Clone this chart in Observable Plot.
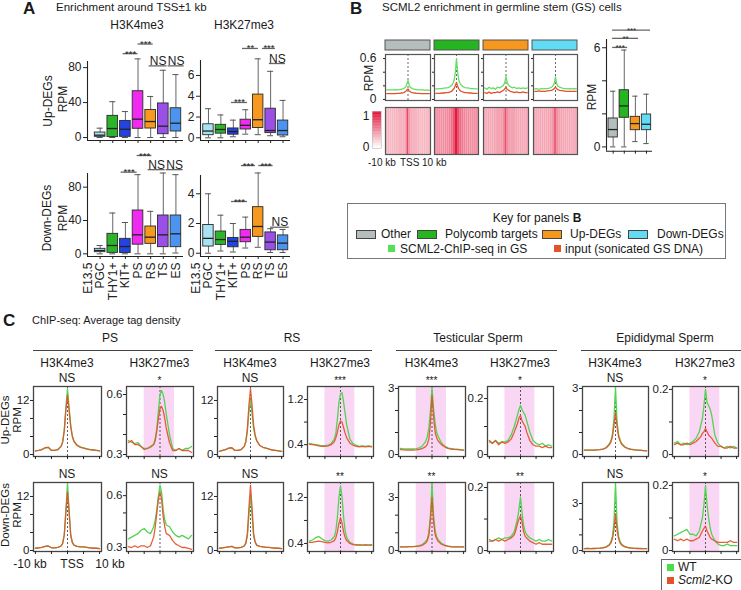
<!DOCTYPE html>
<html><head><meta charset="utf-8">
<script src="https://cdn.jsdelivr.net/npm/d3@7"></script>
<script src="https://cdn.jsdelivr.net/npm/@observablehq/plot@0.6"></script>
<style>
body{margin:0;background:#fff}
#fig{position:relative;width:741px;height:590px;overflow:hidden;font-family:"Liberation Sans",Arial,Helvetica,sans-serif;color:#1a1a1a;background:#fff}
.t{position:absolute;white-space:nowrap;line-height:1}
.sw{position:absolute;box-sizing:border-box}
</style></head>
<body><div id="fig"></div>
<script>
// ================= DATA =================
// Panel A: boxplot summaries [min, q1, median, q3, max] (RPM)
const stageCats = ["E13.5 PGC","THY1+","KIT+","PS","RS","TS","ES"];
const stageColors = ["#a7e3f2","#2cb52a","#2443e3","#ee2bee","#f7991f","#9a50e6","#4d94f0"];
const upK4Stats   = [[0,0.8,2.7,5.7,10.7],[0,0.5,10.3,24.8,41],[0,0.8,9.5,19,29.7],[0,10,21,53,90],[0,10.3,18.3,31.6,47],[0,3.8,13,39,77],[0,6.9,16.4,33.5,72]];
const upK27Stats  = [[0,0.25,0.65,1.3,2.8],[0,0.4,0.8,1.25,2.2],[0.1,0.3,0.6,0.9,1.7],[0.35,0.8,1.2,1.74,2.7],[0.3,0.94,1.74,4.16,7.6],[0.2,0.45,0.7,2.8,6.4],[0.1,0.22,0.7,1.66,3.6]];
const downK4Stats = [[0,2,4,6,10],[0,1.2,10,24,49],[0,1,8.8,18,37.6],[0,11,22.8,52,95],[0,12,20,32.8,51],[0,8,22.8,46,97],[1,8,24,46,95]];
const downK27Stats= [[0,0.45,1.0,1.9,4.0],[0.15,0.56,0.92,1.46,2.56],[0.08,0.4,0.8,1.03,2.0],[0.35,0.74,1.08,1.57,2.43],[0.4,1.1,1.8,3.1,5.4],[0.05,0.2,0.75,1.4,1.65],[0.05,0.2,0.68,1.2,1.6]];
// significance brackets: from category position x1 to x2, at level y (RPM)
const upK4Sig   = [{x1:1.82,x2:3.0,y:96,label:"***"},{x1:3.0,x2:4.2,y:107,label:"***"},{x1:3.88,x2:5.3,y:82,label:"NS"},{x1:5.38,x2:6.65,y:82,label:"NS"}];
const upK27Sig  = [{x1:1.85,x2:3.14,y:3.4,label:"***"},{x1:2.74,x2:4.02,y:8.6,label:"**"},{x1:4.34,x2:5.39,y:8.6,label:"***"},{x1:4.9,x2:6.2,y:7.15,label:"NS"}];
const downK4Sig = [{x1:1.66,x2:2.93,y:98,label:"***"},{x1:2.93,x2:4.1,y:118,label:"***"},{x1:3.8,x2:5.15,y:101,label:"NS"},{x1:5.23,x2:6.57,y:101,label:"NS"}];
const downK27Sig= [{x1:1.85,x2:3.14,y:3.48,label:"***"},{x1:2.65,x2:3.78,y:5.9,label:"***"},{x1:4.05,x2:5.2,y:5.9,label:"***"},{x1:5.0,x2:6.5,y:1.75,label:"NS"}];

// Panel B
const gsCats = ["Other","Polycomb targets","Up-DEGs","Down-DEGs"];
const gsColors = ["#b5bdbd","#25b520","#f7981e","#62dcf4"];
const gsStats = [[0,0.57,1.05,1.72,3.37],[0,1.76,2.48,3.43,5.86],[0.32,1.01,1.41,1.82,3.07],[0.2,1.01,1.37,1.96,3.19]];
const gsSig = [{x1:-0.05,x2:1.3,y:6.02,label:"***"},{x1:-0.05,x2:2.28,y:6.57,label:"**"},{x1:-0.05,x2:3.36,y:7.07,label:"***"}];
// profile x positions (kb from TSS)
const xs = [-10,-9,-8,-7,-6,-5,-4,-3,-2,-1.5,-1,-0.5,0,0.5,1,1.5,2,3,4,5,6,7,8,9,10];
const scml2Other = [0.14,0.14,0.14,0.14,0.145,0.14,0.145,0.15,0.16,0.17,0.19,0.23,0.28,0.22,0.18,0.17,0.16,0.15,0.145,0.14,0.14,0.14,0.135,0.14,0.135];
const inputOther = [0.085,0.085,0.085,0.085,0.085,0.09,0.09,0.095,0.1,0.11,0.12,0.14,0.155,0.13,0.115,0.105,0.1,0.095,0.09,0.09,0.085,0.085,0.085,0.085,0.085];
const scml2Poly = [0.155,0.155,0.16,0.16,0.165,0.17,0.175,0.19,0.22,0.25,0.3,0.42,0.6,0.42,0.3,0.25,0.22,0.19,0.175,0.17,0.165,0.16,0.16,0.155,0.155];
const inputPoly = [0.09,0.09,0.09,0.095,0.095,0.1,0.1,0.11,0.13,0.15,0.17,0.21,0.25,0.2,0.16,0.14,0.125,0.11,0.1,0.1,0.095,0.095,0.09,0.09,0.09];
const scml2Up = [0.17,0.15,0.18,0.16,0.17,0.15,0.18,0.17,0.19,0.2,0.22,0.26,0.34,0.26,0.22,0.2,0.19,0.17,0.18,0.16,0.17,0.16,0.17,0.16,0.17];
const inputUp = [0.1,0.09,0.11,0.09,0.1,0.1,0.11,0.1,0.12,0.13,0.14,0.16,0.18,0.15,0.14,0.13,0.12,0.11,0.1,0.11,0.1,0.1,0.11,0.1,0.1];
const scml2Down = [0.155,0.16,0.15,0.16,0.155,0.16,0.16,0.165,0.18,0.19,0.21,0.25,0.33,0.24,0.2,0.19,0.18,0.17,0.16,0.16,0.155,0.16,0.155,0.16,0.155];
const inputDown = [0.12,0.12,0.125,0.12,0.12,0.12,0.125,0.13,0.135,0.14,0.15,0.165,0.18,0.16,0.145,0.14,0.135,0.13,0.125,0.12,0.12,0.12,0.12,0.12,0.12];
// heatmap column intensities (0..1), x = -10..10 kb
const hmX = [-10,-9,-8,-7,-6,-5,-4,-3,-2,-1,0,1,2,3,4,5,6,7,8,9,10];
const hmOther = [0.28,0.28,0.28,0.28,0.29,0.29,0.29,0.3,0.31,0.36,0.72,0.4,0.32,0.3,0.29,0.29,0.28,0.28,0.28,0.28,0.28];
const hmPoly  = [0.42,0.42,0.43,0.43,0.44,0.45,0.46,0.49,0.55,0.66,0.9,0.7,0.58,0.52,0.48,0.46,0.45,0.44,0.43,0.43,0.42];
const hmUp    = [0.33,0.33,0.34,0.34,0.34,0.35,0.35,0.36,0.38,0.44,0.7,0.47,0.39,0.37,0.36,0.35,0.35,0.34,0.34,0.33,0.33];
const hmDown  = [0.33,0.33,0.33,0.34,0.34,0.34,0.35,0.35,0.37,0.41,0.62,0.44,0.38,0.36,0.35,0.35,0.34,0.34,0.33,0.33,0.33];

// Panel C: average tag density (RPM), WT and Scml2-KO
const up_PS_K4_WT  = [0.8,0.9,1.1,1.5,1.6,0.9,0.9,1.1,1.8,2.8,5.5,10.5,14.6,10.5,6.5,4.2,3.0,2.1,1.7,1.5,1.3,1.1,1.0,0.9,0.8];
const up_PS_K4_KO  = [0.8,0.9,1.1,1.5,1.6,0.9,0.9,1.1,1.8,2.8,5.3,10.0,13.2,9.8,6.2,4.0,2.9,2.0,1.6,1.4,1.2,1.1,1.0,0.9,0.8];
const up_PS_K27_WT = [0.37,0.36,0.355,0.36,0.34,0.33,0.33,0.335,0.35,0.38,0.43,0.52,0.6,0.62,0.6,0.56,0.5,0.4,0.33,0.32,0.33,0.32,0.33,0.33,0.34];
const up_PS_K27_KO = [0.36,0.37,0.35,0.35,0.34,0.325,0.33,0.34,0.35,0.37,0.42,0.48,0.53,0.54,0.52,0.48,0.43,0.36,0.32,0.32,0.33,0.32,0.32,0.32,0.31];
const up_RS_K4_WT  = [0.7,0.9,1.1,1.4,1.5,0.9,0.9,1.1,1.8,2.8,5.2,9.5,12.2,9.0,5.8,4.0,3.0,2.0,1.6,1.4,1.2,1.0,0.9,0.8,0.7];
const up_RS_K4_KO  = [0.7,0.9,1.1,1.4,1.5,0.9,0.9,1.1,1.8,2.9,5.8,11.0,14.6,11.0,6.5,4.3,3.1,2.0,1.6,1.4,1.2,1.0,0.9,0.8,0.7];
const up_RS_K27_WT = [0.42,0.41,0.4,0.39,0.38,0.38,0.39,0.42,0.5,0.6,0.85,1.15,1.3,1.32,1.15,0.95,0.75,0.5,0.42,0.39,0.37,0.38,0.37,0.38,0.37];
const up_RS_K27_KO = [0.41,0.4,0.39,0.38,0.37,0.37,0.38,0.4,0.45,0.52,0.62,0.75,0.82,0.8,0.7,0.6,0.52,0.43,0.39,0.37,0.36,0.37,0.36,0.37,0.36];
const up_TS_K4_WT  = [0.28,0.26,0.25,0.25,0.25,0.27,0.3,0.4,0.6,0.8,1.2,2.0,3.0,2.1,1.4,1.0,0.8,0.52,0.38,0.3,0.27,0.25,0.24,0.22,0.2];
const up_TS_K4_KO  = [0.22,0.21,0.2,0.2,0.2,0.21,0.23,0.28,0.36,0.46,0.7,1.4,2.7,1.7,1.0,0.75,0.6,0.45,0.35,0.28,0.25,0.23,0.22,0.21,0.2];
const up_TS_K27_WT = [0.045,0.04,0.05,0.04,0.045,0.045,0.05,0.07,0.1,0.12,0.14,0.16,0.175,0.16,0.15,0.14,0.12,0.08,0.05,0.04,0.035,0.04,0.03,0.035,0.03];
const up_TS_K27_KO = [0.05,0.04,0.05,0.035,0.045,0.04,0.045,0.055,0.08,0.095,0.11,0.13,0.14,0.12,0.11,0.1,0.08,0.05,0.035,0.03,0.03,0.025,0.03,0.025,0.025];
const up_ES_K4_WT  = [0.2,0.2,0.2,0.2,0.21,0.22,0.25,0.32,0.48,0.62,0.9,1.6,3.05,1.5,0.9,0.65,0.5,0.35,0.28,0.24,0.22,0.2,0.2,0.18,0.17];
const up_ES_K4_KO  = [0.2,0.2,0.2,0.2,0.21,0.22,0.25,0.3,0.44,0.56,0.8,1.3,1.9,1.25,0.8,0.6,0.46,0.33,0.27,0.23,0.21,0.2,0.19,0.18,0.17];
const up_ES_K27_WT = [0.035,0.04,0.03,0.035,0.03,0.035,0.04,0.05,0.07,0.09,0.11,0.15,0.2,0.16,0.15,0.14,0.12,0.06,0.035,0.025,0.02,0.025,0.02,0.025,0.02];
const up_ES_K27_KO = [0.03,0.035,0.03,0.03,0.035,0.03,0.035,0.04,0.05,0.055,0.065,0.07,0.08,0.07,0.06,0.055,0.05,0.035,0.025,0.025,0.02,0.02,0.025,0.02,0.02];
const dn_PS_K4_WT  = [0.5,0.6,0.7,0.9,1.0,0.6,0.6,0.7,1.0,1.6,3.5,9.0,15.0,9.0,3.5,1.8,1.2,0.9,0.8,0.8,0.7,0.6,0.5,0.5,0.4];
const dn_PS_K4_KO  = [0.5,0.6,0.7,0.9,1.0,0.6,0.6,0.7,1.0,1.6,3.5,8.5,13.0,8.5,3.4,1.8,1.2,0.9,0.8,0.8,0.7,0.6,0.5,0.5,0.4];
const dn_PS_K27_WT = [0.35,0.36,0.37,0.38,0.4,0.41,0.39,0.38,0.42,0.46,0.52,0.6,0.66,0.62,0.52,0.46,0.43,0.42,0.39,0.37,0.36,0.37,0.36,0.35,0.37];
const dn_PS_K27_KO = [0.305,0.3,0.31,0.3,0.31,0.31,0.3,0.31,0.36,0.42,0.5,0.58,0.62,0.58,0.48,0.42,0.38,0.37,0.34,0.32,0.31,0.3,0.3,0.295,0.29];
const dn_RS_K4_WT  = [0.5,0.6,0.7,0.8,0.9,0.6,0.6,0.7,1.0,1.6,3.2,8.0,12.2,8.0,3.2,1.8,1.2,0.9,0.8,0.7,0.7,0.6,0.5,0.5,0.4];
const dn_RS_K4_KO  = [0.5,0.6,0.7,0.8,0.9,0.6,0.6,0.7,1.0,1.7,3.8,9.5,14.5,9.5,3.8,1.9,1.2,0.9,0.8,0.7,0.7,0.6,0.5,0.5,0.4];
const dn_RS_K27_WT = [0.44,0.46,0.5,0.52,0.48,0.45,0.44,0.46,0.52,0.62,0.85,1.2,1.4,1.2,0.85,0.62,0.5,0.42,0.39,0.38,0.38,0.37,0.38,0.37,0.38];
const dn_RS_K27_KO = [0.42,0.42,0.43,0.44,0.43,0.42,0.41,0.42,0.45,0.5,0.6,0.75,0.85,0.75,0.6,0.5,0.45,0.4,0.38,0.37,0.37,0.37,0.37,0.37,0.37];
const dn_TS_K4_WT  = [0.2,0.2,0.2,0.22,0.22,0.25,0.28,0.35,0.5,0.65,1.0,2.0,3.8,2.0,1.1,0.75,0.6,0.4,0.3,0.25,0.22,0.2,0.2,0.2,0.2];
const dn_TS_K4_KO  = [0.2,0.2,0.2,0.22,0.22,0.23,0.25,0.3,0.42,0.55,0.85,1.7,3.0,1.6,0.9,0.65,0.5,0.35,0.28,0.24,0.21,0.2,0.2,0.2,0.2];
const dn_TS_K27_WT = [0.035,0.03,0.035,0.04,0.035,0.04,0.04,0.045,0.06,0.08,0.1,0.13,0.17,0.12,0.08,0.06,0.05,0.04,0.035,0.03,0.035,0.03,0.03,0.035,0.03];
const dn_TS_K27_KO = [0.03,0.03,0.035,0.03,0.035,0.03,0.035,0.04,0.05,0.065,0.085,0.1,0.11,0.09,0.06,0.045,0.04,0.03,0.025,0.02,0.025,0.02,0.02,0.02,0.02];
const dn_ES_K4_WT  = [0.12,0.13,0.12,0.13,0.14,0.15,0.18,0.24,0.38,0.55,0.9,1.8,4.3,1.8,0.9,0.55,0.4,0.25,0.2,0.17,0.15,0.14,0.13,0.12,0.12];
const dn_ES_K4_KO  = [0.12,0.13,0.12,0.13,0.14,0.15,0.17,0.22,0.34,0.48,0.75,1.3,2.35,1.3,0.75,0.48,0.35,0.23,0.18,0.16,0.14,0.13,0.12,0.12,0.12];
const dn_ES_K27_WT = [0.045,0.05,0.055,0.06,0.065,0.05,0.05,0.045,0.06,0.08,0.1,0.14,0.2,0.14,0.1,0.07,0.05,0.03,0.02,0.015,0.015,0.02,0.015,0.015,0.015];
const dn_ES_K27_KO = [0.035,0.03,0.035,0.03,0.035,0.03,0.03,0.035,0.04,0.05,0.06,0.068,0.075,0.06,0.05,0.04,0.035,0.03,0.025,0.025,0.025,0.025,0.03,0.025,0.025];
const cSigUp   = ["NS","*","NS","***","***","*","NS","*"];
const cSigDown = ["NS","NS","NS","**","**","**","NS","*"];
const cStages = ["PS","RS","Testicular Sperm","Epididymal Sperm"];
const cMarks = ["H3K4me3","H3K27me3"];
const shadeRange = [-5, 4.6];

// ================= HELPERS =================
const fig = document.getElementById("fig");
const FONT = "Liberation Sans, Arial, Helvetica, sans-serif";
const WT = "#52d452", KO = "#e4512b";

function txt(x, y, s, o = {}) {
  const d = document.createElement("div");
  d.className = "t";
  d.innerHTML = s;
  d.style.left = x + "px"; d.style.top = y + "px";
  d.style.fontSize = (o.size || 12) + "px";
  if (o.bold) d.style.fontWeight = "bold";
  const ax = o.anchor === "middle" ? "-50%" : o.anchor === "end" ? "-100%" : "0";
  d.style.transform = `translate(${ax},-50%)` + (o.rotate ? ` rotate(${o.rotate}deg)` : "");
  fig.appendChild(d);
}
function box(x, y, w, h, fill, stroke, sw = 1) {
  const d = document.createElement("div");
  d.className = "sw";
  d.style.cssText += `left:${x}px;top:${y}px;width:${w}px;height:${h}px;background:${fill};` + (stroke ? `border:${sw}px solid ${stroke};` : "");
  fig.appendChild(d);
}
function hline(x1, x2, y, c = "#555") { box(x1, y, x2 - x1, 1.2, c); }

function mk(fx, fy, xOpt, yOpt, marks, m = [0, 0, 0, 0], fontSize = 11, extra = {}) {
  const [mt, mr, mb, ml] = m;
  const width = fx[1] - fx[0] + ml + mr, height = fy[1] - fy[0] + mt + mb;
  const svg = Plot.plot({
    width, height, marginTop: mt, marginRight: mr, marginBottom: mb, marginLeft: ml,
    x: {label: null, ...xOpt}, y: {label: null, ...yOpt},
    style: {fontFamily: FONT, fontSize: fontSize + "px", background: "none", overflow: "visible", color: "#222"},
    marks: marks.flat().filter(Boolean), ...extra
  });
  svg.style.position = "absolute";
  svg.style.left = (fx[0] - ml) + "px";
  svg.style.top = (fy[0] - mt) + "px";
  fig.appendChild(svg);
}

function sigMarks(sig, starSize = 9.5) {
  const L = sig.map(s => ({...s, xm: (s.x1 + s.x2) / 2}));
  return [
    Plot.ruleY(L, {y: "y", x1: "x1", x2: "x2", stroke: "#666", strokeWidth: 1.3}),
    Plot.text(L.filter(s => s.label === "NS"), {x: "xm", y: "y", text: "label", lineAnchor: "bottom", dy: -1, fontSize: 12}),
    Plot.text(L.filter(s => s.label !== "NS"), {x: "xm", y: "y", text: "label", lineAnchor: "bottom", dy: 3, fontSize: starSize})
  ];
}

function boxMarks(stats, colors, xd, yd, yticks, ylabels, cats) {
  const d = stats.map((s, i) => ({i, min: s[0], q1: s[1], med: s[2], q3: s[3], max: s[4], c: colors[i],
    first: cats ? cats[i].split(" ").slice(0, -1).join(" ") : "", last: cats ? cats[i].split(" ").slice(-1)[0] : ""}));
  const hw = 0.42, cw = 0.24;
  return [
    Plot.ruleX([xd[0]], {stroke: "#222", strokeWidth: 1.1}),
    Plot.ruleY([yd[0]], {stroke: "#222", strokeWidth: 1.1}),
    Plot.ruleX(d, {x: "i", y1: "min", y2: "max", stroke: "#666"}),
    Plot.ruleY(d, {y: "min", x1: e => e.i - cw, x2: e => e.i + cw, stroke: "#555"}),
    Plot.ruleY(d, {y: "max", x1: e => e.i - cw, x2: e => e.i + cw, stroke: "#555"}),
    Plot.rect(d, {x1: e => e.i - hw, x2: e => e.i + hw, y1: "q1", y2: "q3", fill: "c", stroke: "#2a2a2a", strokeWidth: 0.9}),
    Plot.ruleY(d, {y: "med", x1: e => e.i - hw, x2: e => e.i + hw, stroke: "#222", strokeWidth: 1.3}),
    Plot.axisY({ticks: yticks, tickSize: 4, tickPadding: 2, label: null, tickFormat: v => ylabels.includes(v) ? String(v) : ""}),
    Plot.axisX({ticks: d.map(e => e.i), tickSize: 3, label: null, tickFormat: () => ""}),
    cats ? Plot.text(d, {x: "i", y: yd[0], text: "last", rotate: -90, textAnchor: "end", lineAnchor: "middle", dy: 6, fontSize: 12}) : null,
    cats ? Plot.text(d.filter(e => e.first), {x: "i", y: yd[0], text: "first", rotate: -90, textAnchor: "end", lineAnchor: "middle", dy: 6, dx: -12, fontSize: 12}) : null
  ];
}
const series = ys => xs.map((x, i) => ({x, y: ys[i]}));

// ================= PANEL A =================
txt(23, 8, "A", {size: 17, bold: true});
txt(56, 8, "Enrichment around TSS±1 kb", {size: 11.5});
txt(137, 25, "H3K4me3", {anchor: "middle"});
txt(244, 25, "H3K27me3", {anchor: "middle"});
txt(48, 101, "Up-DEGs", {anchor: "middle", rotate: -90});
txt(63, 99, "RPM", {anchor: "middle", rotate: -90});
txt(47, 218, "Down-DEGs", {anchor: "middle", rotate: -90});
txt(63, 218, "RPM", {anchor: "middle", rotate: -90});

{
  const xd = [-1, 6.6], yd = [-3.4, 87];
  mk([87, 183], [61, 140], {domain: xd, axis: null}, {domain: yd, axis: null},
    [boxMarks(upK4Stats, stageColors, xd, yd, [0, 40, 80], [0, 40, 80]), sigMarks(upK4Sig)], [40, 5, 10, 30], 12);
}
{
  const xd = [-0.64, 6.6], yd = [-0.26, 7.44];
  mk([200, 290], [60, 140], {domain: xd, axis: null}, {domain: yd, axis: null},
    [boxMarks(upK27Stats, stageColors, xd, yd, [0, 2, 4, 6], [0, 2, 4, 6]), sigMarks(upK27Sig)], [40, 5, 10, 20], 12);
}
{
  const xd = [-1, 6.6], yd = [-3.2, 96.4];
  mk([87, 183], [173, 256], {domain: xd, axis: null}, {domain: yd, axis: null},
    [boxMarks(downK4Stats, stageColors, xd, yd, [0, 40, 80], [0, 40, 80], stageCats), sigMarks(downK4Sig)], [30, 5, 40, 30], 12);
}
{
  const xd = [-0.64, 6.6], yd = [-0.22, 5.23];
  mk([200, 290], [175, 256], {domain: xd, axis: null}, {domain: yd, axis: null},
    [boxMarks(downK27Stats, stageColors, xd, yd, [0, 2, 4], [0, 2, 4], stageCats), sigMarks(downK27Sig)], [30, 5, 40, 20], 12);
}

// ================= PANEL B =================
txt(350, 8, "B", {size: 17, bold: true});
txt(382, 8, "SCML2 enrichment in germline stem (GS) cells", {size: 11.5});
mk([385, 577], [40, 50], {type: "band", domain: gsCats, paddingInner: 0.09, paddingOuter: 0, axis: null}, {domain: [0, 1], axis: null},
  [Plot.barY(gsCats, {x: d => d, y1: 0, y2: 1, fill: (d, i) => gsColors[i], stroke: "#555", strokeWidth: 1, inset: 0})]);

const bFx = [[385, 430], [434, 478], [483, 528], [533, 577]];
const bProfiles = [[scml2Other, inputOther], [scml2Poly, inputPoly], [scml2Up, inputUp], [scml2Down, inputDown]];
const bHeat = [hmOther, hmPoly, hmUp, hmDown];
bFx.forEach((fx, k) => {
  mk(fx, [54, 100], {domain: [-10.6, 10.6], axis: null}, {domain: [-0.015, 0.66], axis: null}, [
    Plot.ruleX([0], {stroke: "#444", strokeDasharray: "2,2", strokeWidth: 0.8}),
    Plot.line(series(bProfiles[k][0]), {x: "x", y: "y", stroke: "#66dd66", strokeWidth: 1.3}),
    Plot.line(series(bProfiles[k][1]), {x: "x", y: "y", stroke: KO, strokeWidth: 1.3}),
    Plot.frame({stroke: "#555", strokeWidth: 1.2}),
    Plot.axisY({ticks: [0, 0.2, 0.4, 0.6], tickSize: 2, label: null, tickFormat: v => (k === 0 && (v === 0 || v === 0.6)) ? String(v) : ""})
  ], [2, 2, 2, 18], 12);
  const cells = hmX.map((x, i) => ({x, v: bHeat[k][i]}));
  mk(fx, [107, 154], {domain: [-10.5, 10.5], axis: null}, {domain: [0, 1], axis: null}, [
    Plot.rect(cells, {x1: d => d.x - 0.5, x2: d => d.x + 0.5, y1: 0, y2: 1, fill: "v"}),
    Plot.frame({stroke: "#555", strokeWidth: 1.2})
  ], [0, 0, 0, 0], 11, {color: {type: "linear", domain: [0, 1], range: ["#ffffff", "#e0002a"]}});
});
txt(369, 78, "RPM", {anchor: "middle", rotate: -90});
// colour bar
mk([372, 381], [111, 148], {domain: [0, 1], axis: null}, {domain: [0, 1], axis: null}, [
  Plot.rect(d3.ticks(0, 1, 40), {x1: 0, x2: 1, y1: d => d, y2: d => Math.min(1, d + 0.026), fill: d => d}),
  Plot.frame({stroke: "#bbb", strokeWidth: 0.6})
], [0, 0, 0, 0], 11, {color: {type: "linear", domain: [0, 1], range: ["#ffffff", "#e0002a"]}});
txt(366, 116, "1", {anchor: "middle", size: 12});
txt(366, 147, "0", {anchor: "middle", size: 12});
txt(368, 163, "-10 kb", {size: 10});
txt(400, 163, "TSS", {size: 10});
txt(422, 163, "10 kb", {size: 10});

{
  const xd = [-0.6, 3.54], yd = [-0.26, 6.5];
  mk([606, 652], [39.3, 151], {domain: xd, axis: null}, {domain: yd, axis: null},
    [boxMarks(gsStats, gsColors, xd, yd, [0, 2, 4, 6], [0, 6]), sigMarks(gsSig, 8)], [20, 5, 5, 20], 12);
}
txt(592, 97, "RPM", {anchor: "middle", rotate: -90});

// Key box
box(347, 203, 379, 56, "transparent", "#777", 1.5);
txt(537, 218, "Key for panels <b>B</b>", {anchor: "middle", size: 12});
const keyPos = [[356, 381], [417, 445], [542, 570], [628, 657]];
gsCats.forEach((c, i) => {
  box(keyPos[i][0], 229.5, 20, 9, gsColors[i], "#444", 1);
  txt(keyPos[i][1], 234, c, {size: 12});
});
box(388, 245, 7, 7, "#55e055");
txt(400, 248.5, "SCML2-ChIP-seq in GS", {size: 12});
box(554, 245, 7, 7, KO);
txt(565, 248.5, "input (sonicated GS DNA)", {size: 12});

// ================= PANEL C =================
txt(3, 320, "C", {size: 17, bold: true});
txt(32, 320, "ChIP-seq: Average tag density", {size: 11});
const grpHdr = [[110, 33, 193], [292, 215, 372], [478, 396, 557], [665, 581, 741]];
cStages.forEach((s, i) => {
  txt(grpHdr[i][0], 338, s, {anchor: "middle", size: 12});
  hline(grpHdr[i][1], grpHdr[i][2], 350, "#444");
});
const cFx = [[33, 101], [126, 193], [217, 283], [307, 373], [398, 465], [487, 553], [582, 648], [672, 738]];
cFx.forEach((fx, j) => txt((fx[0] + fx[1]) / 2, 363, cMarks[j % 2], {anchor: "middle", size: 12}));

const cUp = [[up_PS_K4_WT, up_PS_K4_KO], [up_PS_K27_WT, up_PS_K27_KO], [up_RS_K4_WT, up_RS_K4_KO], [up_RS_K27_WT, up_RS_K27_KO],
             [up_TS_K4_WT, up_TS_K4_KO], [up_TS_K27_WT, up_TS_K27_KO], [up_ES_K4_WT, up_ES_K4_KO], [up_ES_K27_WT, up_ES_K27_KO]];
const cDn = [[dn_PS_K4_WT, dn_PS_K4_KO], [dn_PS_K27_WT, dn_PS_K27_KO], [dn_RS_K4_WT, dn_RS_K4_KO], [dn_RS_K27_WT, dn_RS_K27_KO],
             [dn_TS_K4_WT, dn_TS_K4_KO], [dn_TS_K27_WT, dn_TS_K27_KO], [dn_ES_K4_WT, dn_ES_K4_KO], [dn_ES_K27_WT, dn_ES_K27_KO]];
const ydUp = [[-0.44, 15.1], [0.29, 0.64], [-0.44, 15.1], [0.19, 1.43], [-0.09, 3.09], [-0.007, 0.243], [-0.09, 3.09], [-0.006, 0.209]];
const ydDn = [[-0.22, 15.1], [0.277, 0.676], [-0.22, 15.1], [0.26, 1.46], [-0.06, 3.85], [-0.003, 0.216], [-0.06, 4.34], [-0.003, 0.209]];
const tk = [[[0, 4, 8, 12], [0, 12]], [[0.3, 0.4, 0.5, 0.6], [0.3, 0.6]], [[0, 4, 8, 12], [0, 12]], [[0.4, 0.8, 1.2], [0.4, 1.2]],
            [[0, 1, 2, 3], [0, 3]], [[0, 0.1, 0.2], [0, 0.2]], [[0, 1, 2, 3], [0, 3]], [[0, 0.1, 0.2], [0, 0.2]]];

function cPlot(fx, fy, yd, pair, sig, ticks) {
  const shaded = sig !== "NS";
  mk(fx, fy, {domain: [-10.6, 10.6], axis: null}, {domain: yd, axis: null}, [
    shaded ? Plot.rect([shadeRange], {x1: d => d[0], x2: d => d[1], fill: "#f9d6f4"}) : null,
    Plot.ruleX([0], {stroke: "#333", strokeDasharray: "2,2", strokeWidth: 0.8}),
    Plot.line(series(pair[0]), {x: "x", y: "y", stroke: WT, strokeWidth: 1.3}),
    Plot.line(series(pair[1]), {x: "x", y: "y", stroke: KO, strokeWidth: 1.3, strokeOpacity: 0.92}),
    Plot.frame({stroke: "#444", strokeWidth: 1.3}),
    Plot.axisY({ticks: ticks[0], tickSize: 3, tickPadding: 1, label: null, tickFormat: v => ticks[1].includes(v) ? String(v) : ""}),
    Plot.axisX({ticks: [-10, -5, 0, 5, 10], tickSize: 3, label: null, tickFormat: () => ""})
  ], [2, 2, 5, 22], 11.5);
  txt((fx[0] + fx[1]) / 2, sig === "NS" ? fy[0] - 8 : fy[0] - 5, sig, {anchor: "middle", size: sig === "NS" ? 12 : 10});
}
cFx.forEach((fx, j) => {
  cPlot(fx, [386, 456], ydUp[j], cUp[j], cSigUp[j], tk[j]);
  cPlot(fx, [482, 551], ydDn[j], cDn[j], cSigDown[j], tk[j]);
});
txt(6, 420, "Up-DEGs", {anchor: "middle", rotate: -90, size: 11.5});
txt(18, 420, "RPM", {anchor: "middle", rotate: -90, size: 11.5});
txt(6, 515, "Down-DEGs", {anchor: "middle", rotate: -90, size: 11.5});
txt(18, 515, "RPM", {anchor: "middle", rotate: -90, size: 11.5});
txt(30, 564, "-10 kb", {anchor: "middle", size: 12});
txt(72, 564, "TSS", {anchor: "middle", size: 12});
txt(110, 564, "10 kb", {anchor: "middle", size: 12});

// WT / KO legend
box(661, 559, 84, 34, "transparent", "#666", 1.2);
box(667, 563.5, 7, 7, "#44e044");
txt(678, 567, "WT", {size: 12});
box(667, 576.5, 7, 7, KO);
txt(678, 580, "<i>Scml2</i>-KO", {size: 12});
</script></body></html>
